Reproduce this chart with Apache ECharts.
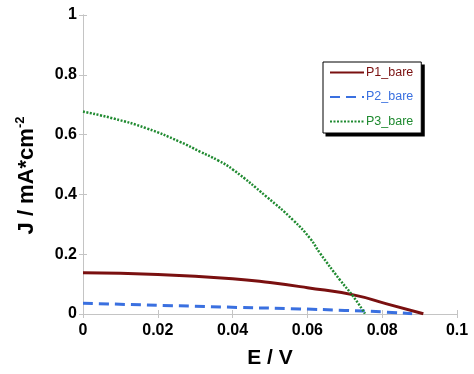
<!DOCTYPE html>
<html><head><meta charset="utf-8">
<script src="https://cdn.jsdelivr.net/npm/echarts@6/dist/echarts.min.js"></script>
<style>html,body{margin:0;padding:0;background:#fff}#c{width:474px;height:374px}</style>
</head><body><div id="c"></div>
<script>
var xTicks = [0, 0.02, 0.04, 0.06, 0.08, 0.1];
var yTicks = [0, 0.2, 0.4, 0.6, 0.8, 1];
var seriesNames = ['P1_bare', 'P2_bare', 'P3_bare'];
var p1E = [0, 0.02, 0.04, 0.05, 0.06, 0.0723, 0.0812, 0.091];
var p1J = [0.138, 0.132, 0.118, 0.105, 0.088, 0.064, 0.034, 0.001];
var p2E = [0, 0.0385, 0.058, 0.07, 0.08, 0.088];
var p2J = [0.036, 0.023, 0.017, 0.012, 0.007, 0.001];
var p3E = [0, 0.0081, 0.017, 0.0259, 0.0313, 0.0362, 0.0402, 0.0491, 0.0562, 0.0607, 0.0634, 0.0687, 0.0723, 0.0754];
var p3J = [0.677, 0.654, 0.621, 0.576, 0.543, 0.513, 0.482, 0.392, 0.314, 0.253, 0.203, 0.114, 0.058, 0.001];
var colors = ['#7a1010', '#3a70e0', '#1f8a30'];

function pairs(xs, ys){ return xs.map(function(x,i){ return [x, ys[i]]; }); }
var FONT = 'Liberation Sans, Arial, sans-serif';
var axisGray = '#c4c4c4';
var chart = echarts.init(document.getElementById('c'));
function baseAxis(extra){
  return Object.assign({
    type: 'value', min: 0,
    axisLine: { show: true, lineStyle: { color: axisGray, width: 1 } },
    axisTick: { show: true, inside: true, length: 4, lineStyle: { color: axisGray } },
    splitLine: { show: false }
  }, extra);
}
chart.setOption({
  animation: false,
  grid: { left: 83, right: 17, top: 15, bottom: 60 },
  graphic: [
    { id: 'shadow', type: 'rect', shape: { x: 326, y: 65, width: 95, height: 70 }, style: { fill: '#000' }, z: 0 }
  ],
  xAxis: [
    baseAxis({ max: xTicks[xTicks.length-1], interval: 0.02, position: 'bottom',
      name: 'E / V', nameLocation: 'middle', nameGap: 34,
      nameTextStyle: { fontFamily: FONT, fontWeight: 'bold', fontSize: 21, color: '#000' },
      axisLabel: { margin: 9, fontFamily: FONT, fontWeight: 'bold', fontSize: 16, color: '#000',
        formatter: function(v){ return String(+v.toFixed(2)); } } }),
    baseAxis({ max: xTicks[xTicks.length-1], interval: 0.02, position: 'top', axisLabel: { show: false } })
  ],
  yAxis: [
    baseAxis({ max: yTicks[yTicks.length-1], interval: 0.2, position: 'left',
      name: 'J / mA*cm{sup|-2}', nameLocation: 'middle', nameGap: 44, nameRotate: 90,
      nameTextStyle: { fontFamily: FONT, fontWeight: 'bold', fontSize: 22, color: '#000', padding: [0, 0, 0, -22],
        rich: { sup: { fontFamily: FONT, fontWeight: 'bold', fontSize: 13, color: '#000', verticalAlign: 'top', padding: [0,0,12,0] } } },
      axisLabel: { margin: 6, fontFamily: FONT, fontWeight: 'bold', fontSize: 16, color: '#000',
        formatter: function(v){ return String(+v.toFixed(1)); } } }),
    baseAxis({ max: yTicks[yTicks.length-1], interval: 0.2, position: 'right', axisLabel: { show: false } })
  ],
  legend: {
    orient: 'vertical', left: 323, top: 62,
    itemWidth: 34, itemHeight: 10, itemGap: 11.5,
    padding: [4, 8, 5, 6], z: 5,
    backgroundColor: '#fff', borderColor: '#000', borderWidth: 1,
    itemStyle: { opacity: 0 },
    data: seriesNames.map(function(n, i){ return { name: n, textStyle: { color: colors[i] } }; }),
    textStyle: { fontFamily: FONT, fontSize: 12.5, padding: [0,0,0,-3] }
  },
  series: [
    { name: seriesNames[0], type: 'line', smooth: 0.5, symbol: 'none', data: pairs(p1E, p1J),
      lineStyle: { color: colors[0], width: 3 }, itemStyle: { color: colors[0] } },
    { name: seriesNames[1], type: 'line', smooth: 0.5, symbol: 'none', data: pairs(p2E, p2J),
      lineStyle: { color: colors[1], width: 3, type: [10, 6] }, itemStyle: { color: colors[1] } },
    { name: seriesNames[2], type: 'line', smooth: 0.5, symbol: 'none', data: pairs(p3E, p3J),
      lineStyle: { color: colors[2], width: 2.5, type: [2, 1.5] }, itemStyle: { color: colors[2] } }
  ]
});
try {
  var views = chart._componentsViews || [];
  for (var i = 0; i < views.length; i++) {
    var v = views[i];
    if (v && v.__model && v.__model.mainType === 'legend') {
      var g = v.group;
      var r = g.getBoundingRect();
      chart.setOption({ graphic: [{ id: 'shadow', shape: { x: g.x + r.x + 3, y: g.y + r.y + 3, width: r.width, height: r.height } }] });
      break;
    }
  }
} catch (e) {}
</script></body></html>
